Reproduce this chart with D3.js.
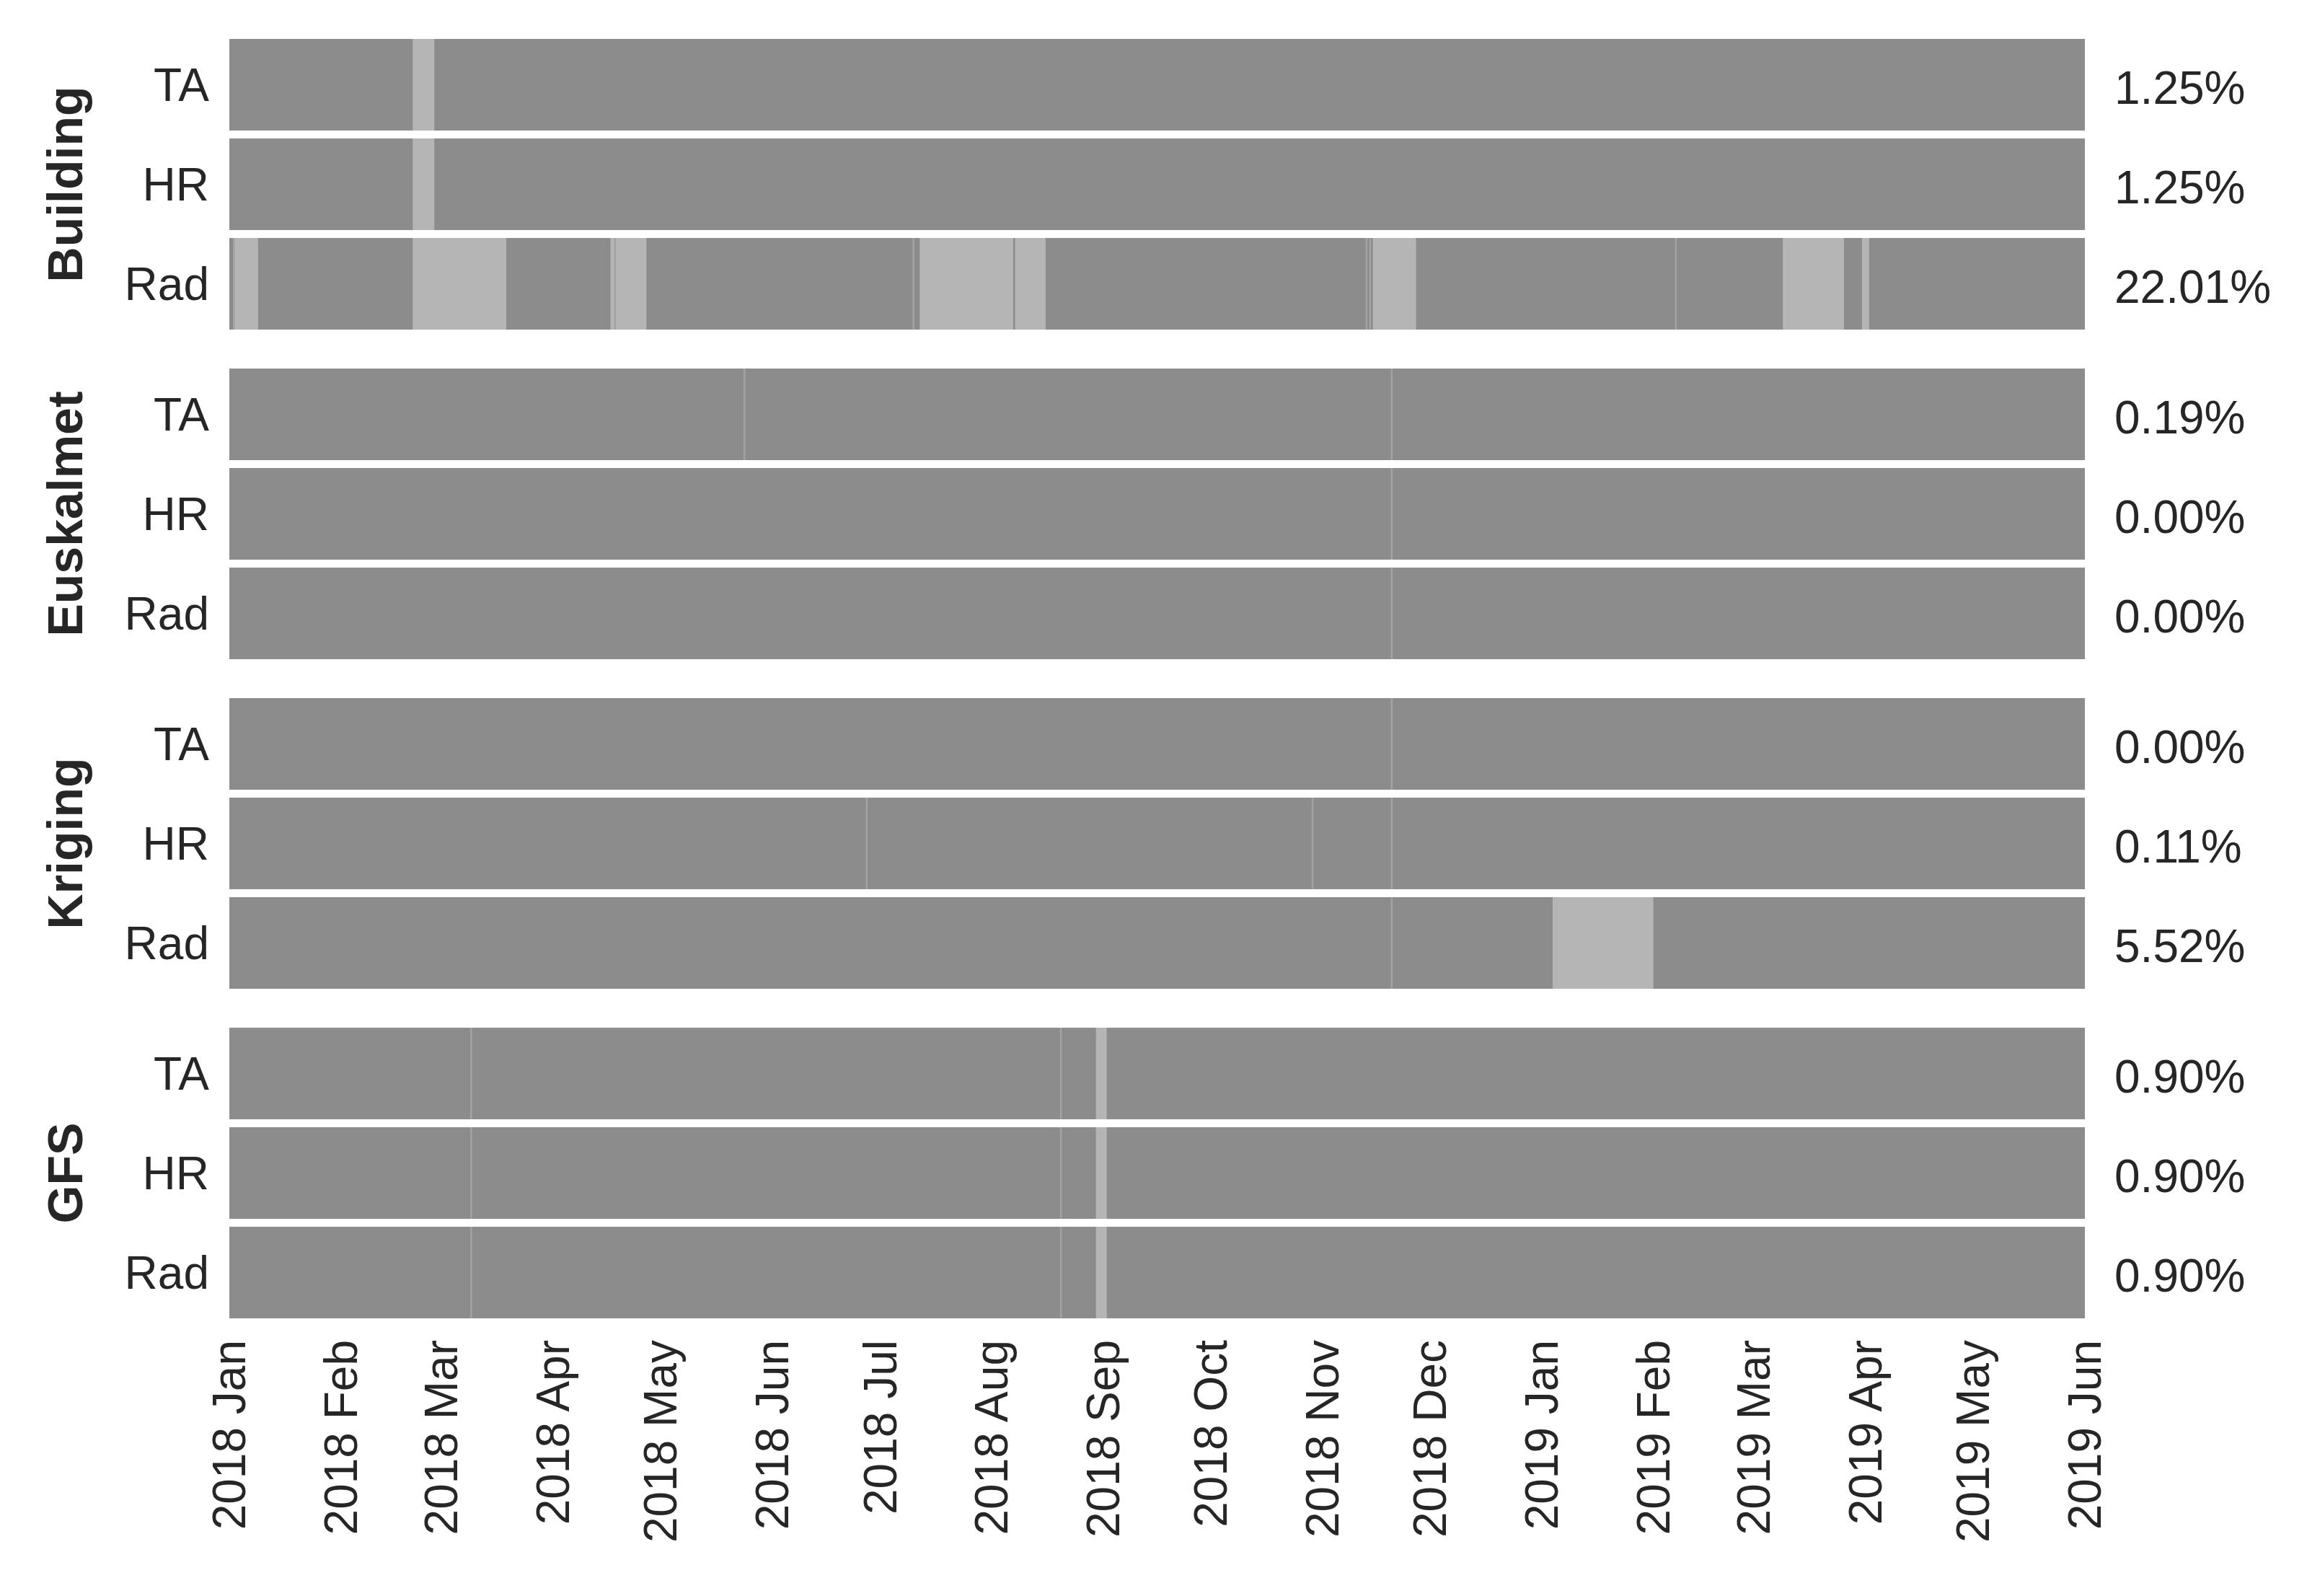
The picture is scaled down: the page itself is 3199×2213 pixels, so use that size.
<!DOCTYPE html>
<html>
<head>
<meta charset="utf-8">
<script src="https://cdn.jsdelivr.net/npm/d3@7"></script>
<style>
  body { margin: 0; background: #fff; }
  text { font-family: Arial, "Liberation Sans", sans-serif; fill: #262626; }
</style>
</head>
<body>
<svg id="chart" width="3199" height="2213"></svg>
<script>
const groups = ["Building", "Euskalmet", "Kriging", "GFS"];
const variables = ["TA", "HR", "Rad"];
const missingPct = [
  ["1.25%", "1.25%", "22.01%"],
  ["0.19%", "0.00%", "0.00%"],
  ["0.00%", "0.11%", "5.52%"],
  ["0.90%", "0.90%", "0.90%"]
];
// missing periods per row [start, end]
const gaps = [
  [
    [["2018-02-21", "2018-02-27"]],
    [["2018-02-21", "2018-02-27"]],
    [["2018-01-02", "2018-01-09"], ["2018-02-21", "2018-03-19"], ["2018-04-17", "2018-04-27"],
     ["2018-07-12", "2018-08-07"], ["2018-08-07T12:00", "2018-08-16"], ["2018-11-15", "2018-11-27"],
     ["2019-03-09", "2019-03-26"], ["2019-03-31", "2019-04-02"]]
  ],
  [[], [], []],
  [[], [], [["2019-01-04", "2019-02-01"]]],
  [
    [["2018-08-30", "2018-09-02"]],
    [["2018-08-30", "2018-09-02"]],
    [["2018-08-30", "2018-09-02"]]
  ]
];
// single short missing records (thin lines)
const blips = [
  [[], [], ["2018-01-02", "2018-04-18", "2018-07-10", "2018-11-13", "2018-11-14", "2019-02-07"]],
  [["2018-05-24", "2018-11-20"], ["2018-11-20"], ["2018-11-20"]],
  [["2018-11-20"], ["2018-06-27", "2018-10-29", "2018-11-20"], ["2018-11-20"]],
  [["2018-03-09", "2018-08-20"], ["2018-03-09", "2018-08-20"], ["2018-03-09", "2018-08-20"]]
];
const tickDates = d3.timeMonth.range(new Date(2018, 0, 1), new Date(2019, 5, 2));

const svg = d3.select("#chart");
const left = 318, right = 2891, top0 = 54;
const rowH = 127, rowPitch = 138, groupPitch = 457;
const parse = s => new Date(s.length > 10 ? s : s + "T00:00");

const x = d3.scaleTime()
  .domain([new Date(2018, 0, 1), new Date(2019, 5, 1)])
  .range([left, right]);

groups.forEach((g, gi) => {
  const gy = top0 + gi * groupPitch;
  variables.forEach((v, vi) => {
    const y = gy + vi * rowPitch;
    svg.append("rect").attr("x", left).attr("y", y)
      .attr("width", right - left).attr("height", rowH).attr("fill", "#8c8c8c");
    svg.selectAll(null).data(gaps[gi][vi]).join("rect")
      .attr("x", d => x(parse(d[0])))
      .attr("width", d => x(parse(d[1])) - x(parse(d[0])))
      .attr("y", y).attr("height", rowH).attr("fill", "#b5b5b5");
    svg.selectAll(null).data(blips[gi][vi]).join("rect")
      .attr("x", d => x(parse(d)))
      .attr("width", 2.5)
      .attr("y", y).attr("height", rowH).attr("fill", "#a3a3a3");
    svg.append("text").attr("x", 290).attr("y", y + rowH / 2)
      .attr("text-anchor", "end").attr("dominant-baseline", "central")
      .attr("font-size", 64).text(v);
    svg.append("text").attr("x", 2932).attr("y", y + rowH / 2 + 4)
      .attr("dominant-baseline", "central")
      .attr("font-size", 64).text(missingPct[gi][vi]);
  });
  const cy = gy + rowPitch + rowH / 2;
  svg.append("text")
    .attr("transform", `translate(90,${cy}) rotate(-90)`)
    .attr("text-anchor", "middle").attr("dominant-baseline", "central")
    .attr("font-size", 68).attr("font-weight", "bold").text(g);
});

const axisY = top0 + 3 * groupPitch + 2 * rowPitch + rowH;
const fmt = d3.timeFormat("%Y %b");
svg.selectAll(null).data(tickDates).join("text")
  .attr("transform", d => `translate(${x(d)},${axisY + 30}) rotate(-90)`)
  .attr("text-anchor", "end").attr("dominant-baseline", "central")
  .attr("font-size", 64).text(d => fmt(d));
</script>
</body>
</html>
